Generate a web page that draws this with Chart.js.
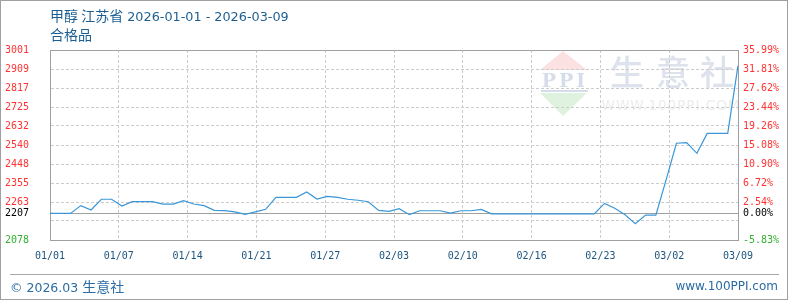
<!DOCTYPE html>
<html>
<head>
<meta charset="utf-8">
<script src="https://cdn.jsdelivr.net/npm/chart.js@4.4.1/dist/chart.umd.min.js"></script>
<style>
  html, body { margin: 0; padding: 0; background: #fff; }
  #wrap { position: relative; width: 788px; height: 300px; overflow: hidden; }
  #chart { position: absolute; left: 0; top: 0; }
  #border { position: absolute; left: 0; top: 0; width: 788px; height: 300px; box-sizing: border-box; border: 1px solid #a0a0a0; pointer-events: none; }
  .txt { position: absolute; color: #1b5e93; font-family: "DejaVu Sans", "Noto Sans CJK SC", sans-serif; white-space: nowrap; line-height: 16px; }
  .cjk { font-family: "Noto Sans CJK SC", sans-serif; font-size: 14px; }
  #title { left: 50px; top: 7px; font-size: 12.8px; }
  #sub { left: 50px; top: 26px; }
  #copy { left: 10px; top: 278px; font-size: 12.5px; color: #2a6ca3; }
  #site { right: 10px; top: 278px; font-size: 12px; color: #2a6ca3; }
  #rule { position: absolute; left: 10px; top: 274px; width: 769px; height: 1px; background: #a8a8a8; }
</style>
</head>
<body>
<div id="wrap">
  <canvas id="chart" width="788" height="300"></canvas>
  <div class="txt" id="title"><span class="cjk">甲醇 江苏省</span> 2026-01-01 - 2026-03-09</div>
  <div class="txt" id="sub"><span class="cjk">合格品</span></div>
  <div id="rule"></div>
  <div class="txt" id="copy">© 2026.03 <span class="cjk">生意社</span></div>
  <div class="txt" id="site">www.100PPI.com</div>
  <div id="border"></div>
</div>
<script>
// 甲醇 江苏省 日价格 (元/吨), 2026-01-01 ... 2026-03-09
const prices = [
    2207, 2207, 2207, 2245, 2224, 2276, 2276, 2243, 2264, 2264,
    2264, 2252, 2252, 2269, 2253, 2245, 2222, 2221, 2215, 2203,
    2215, 2227, 2285, 2285, 2285, 2311, 2277, 2290, 2285, 2276,
    2271, 2264, 2222, 2217, 2230, 2201, 2220, 2220, 2220, 2209,
    2220, 2220, 2227, 2205, 2205, 2205, 2205, 2205, 2205, 2205,
    2205, 2205, 2205, 2205, 2256, 2232, 2201, 2157, 2199, 2199,
    2370, 2548, 2551, 2499, 2596, 2596, 2596, 2925
];

const xTickLabels = ['01/01', '01/07', '01/14', '01/21', '01/27', '02/03', '02/10', '02/16', '02/23', '03/02', '03/09'];

// 刻度 (左: 价格, 右: 相对基准涨跌幅)
const basePrice = 2207;
const yTickValues = [2078, 2170.3, 2207, 2262.6, 2354.9, 2447.2, 2539.5, 2631.8, 2724.1, 2816.4, 2908.7, 3001];
const yLeftLabels = ['2078', '', '2207', '2263', '2355', '2448', '2540', '2632', '2725', '2817', '2909', '3001'];
const yRightLabels = ['-5.83%', '', '0.00%', '2.54%', '6.72%', '10.90%', '15.08%', '19.26%', '23.44%', '27.62%', '31.81%', '35.99%'];

const FRAME = '#a0a0a0';
const GRID = '#cccccc';
const monoFont = { family: '"DejaVu Sans Mono", monospace', size: 10 };

function labelColor(v) {
    if (v === basePrice) return '#000000';
    if (v < basePrice) return '#33b033';
    return '#ff3333';
}

function isSolidY(v) {
    return v === basePrice || v === yTickValues[0] || v === yTickValues[yTickValues.length - 1];
}

// 背景水印
const watermark = {
    id: 'watermark',
    beforeDraw(chart) {
        const c = chart.ctx;
        const r = chart.chartArea.right;
        const t = chart.chartArea.top;
        c.save();
        // 上三角
        c.fillStyle = '#fbe1e1';
        c.beginPath();
        c.moveTo(r - 175, t + 1);
        c.lineTo(r - 151, t + 20);
        c.lineTo(r - 198, t + 20);
        c.closePath();
        c.fill();
        // 下三角
        c.fillStyle = '#dff2df';
        c.beginPath();
        c.moveTo(r - 198, t + 43);
        c.lineTo(r - 151, t + 43);
        c.lineTo(r - 175, t + 66);
        c.closePath();
        c.fill();
        // PPI
        c.fillStyle = '#d6ddea';
        c.font = 'bold 19px "DejaVu Serif", serif';
        c.textAlign = 'center';
        c.textBaseline = 'middle';
        c.letterSpacing = '3px';
        c.fillText('PPI', r - 173, t + 32);
        c.fillRect(r - 197, t + 40, 47, 2);
        // 生意社
        c.letterSpacing = '0px';
        c.fillStyle = '#dde2ec';
        c.font = '500 34px "Noto Sans CJK SC", sans-serif';
        c.fillText('生', r - 111, t + 22);
        c.fillText('意', r - 65, t + 22);
        c.fillText('社', r - 21, t + 22);
        c.fillStyle = '#ececec';
        c.font = '13.5px "DejaVu Sans", sans-serif';
        c.letterSpacing = '1px';
        c.fillText('WWW.100PPI.COM', r - 67, t + 56);
        c.restore();
    }
};

const ctx = document.getElementById('chart').getContext('2d');

new Chart(ctx, {
    type: 'line',
    data: {
        datasets: [{
            data: prices.map((p, i) => ({ x: i, y: p })),
            borderColor: '#3a96d8',
            borderWidth: 1.2,
            pointRadius: 0,
            tension: 0,
            fill: false
        }]
    },
    options: {
        responsive: false,
        animation: false,
        layout: { padding: { left: 5, top: 50, right: 0, bottom: 0 } },
        plugins: { legend: { display: false }, tooltip: { enabled: false } },
        scales: {
            x: {
                type: 'linear',
                min: 0,
                max: prices.length - 1,
                afterBuildTicks: (scale) => {
                    const step = (prices.length - 1) / (xTickLabels.length - 1);
                    scale.ticks = xTickLabels.map((l, i) => ({ value: i * step }));
                },
                afterFit: (scale) => { scale.height = 60; },
                grid: {
                    drawTicks: false,
                    color: (c) => (c.index === 0 || c.index === xTickLabels.length - 1) ? FRAME : GRID
                },
                border: {
                    color: FRAME,
                    dash: (c) => (c.tick && c.index > 0 && c.index < xTickLabels.length - 1) ? [3, 2] : []
                },
                ticks: {
                    autoSkip: false,
                    maxRotation: 0,
                    padding: 10,
                    color: '#1d557f',
                    font: monoFont,
                    callback: (v, i) => xTickLabels[i]
                }
            },
            y: {
                position: 'left',
                min: yTickValues[0],
                max: yTickValues[yTickValues.length - 1],
                afterBuildTicks: (scale) => {
                    scale.ticks = yTickValues.map(v => ({ value: v }));
                },
                afterFit: (scale) => { scale.width = 45; },
                grid: {
                    drawTicks: false,
                    color: (c) => (c.tick && isSolidY(c.tick.value)) ? FRAME : GRID
                },
                border: {
                    color: FRAME,
                    dash: (c) => (c.tick && !isSolidY(c.tick.value)) ? [3, 2] : []
                },
                ticks: {
                    crossAlign: 'far',
                    padding: 5,
                    font: monoFont,
                    color: (c) => labelColor(c.tick.value),
                    callback: (v, i) => yLeftLabels[i]
                }
            },
            y2: {
                position: 'right',
                min: yTickValues[0],
                max: yTickValues[yTickValues.length - 1],
                afterBuildTicks: (scale) => {
                    scale.ticks = yTickValues.map(v => ({ value: v }));
                },
                afterFit: (scale) => { scale.width = 50; },
                grid: { drawOnChartArea: false, drawTicks: false },
                border: { color: FRAME },
                ticks: {
                    padding: 5,
                    font: monoFont,
                    color: (c) => labelColor(c.tick.value),
                    callback: (v, i) => yRightLabels[i]
                }
            }
        }
    },
    plugins: [watermark]
});
</script>
</body>
</html>
